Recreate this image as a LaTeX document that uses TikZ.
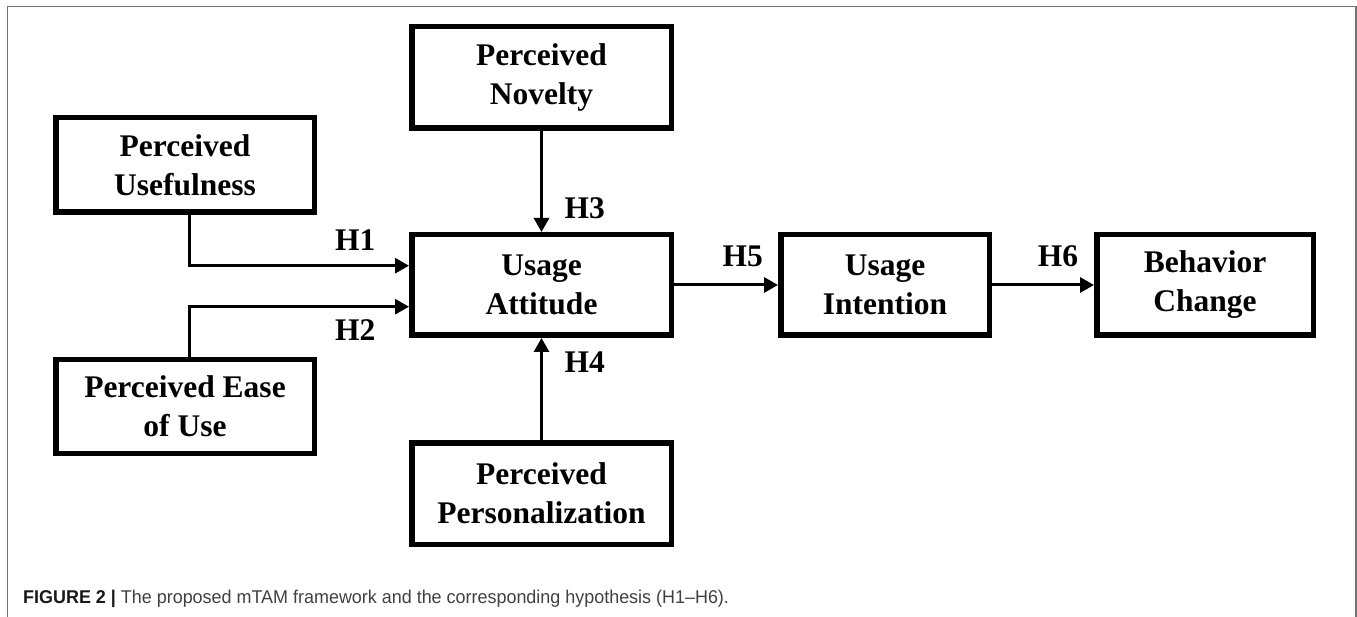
\documentclass[tikz,border=0pt]{standalone}
\usepackage{fontspec}
\usepackage{tikz}
\usetikzlibrary{arrows.meta}

\newfontfamily\boxfont{Liberation Serif}
\newfontfamily\capfont[FakeStretch=0.97]{Liberation Sans}

\begin{document}
\begin{tikzpicture}[x=1pt, y=-1pt]

% Page size and the grey frame round the figure
\useasboundingbox (0,0) rectangle (1357,617);
\draw[black!55, line width=1.5pt] (7.3,617) -- (7.3,6.3) -- (1356,6.3) -- (1356,617);

% Define styles for constructs, hypothesis paths and their labels
\tikzstyle{construct} = [rectangle, draw=black, line width=5.5pt, inner sep=0pt, align=center, font=\boxfont\bfseries\fontsize{31.5}{39}\selectfont]
\tikzstyle{hpath} = [line width=3pt, -{Triangle[length=14pt, width=15pt]}]
\tikzstyle{hyp} = [inner sep=0pt, font=\boxfont\bfseries\fontsize{31.5}{39}\selectfont]

% Constructs
\node[construct, minimum width=259.5pt, minimum height=101.5pt] (novelty) at (541.5,77.5) {Perceived\\Novelty};
\node[construct, minimum width=258.5pt, minimum height=94.5pt] (usefulness) at (185,165) {Perceived\\Usefulness};
\node[construct, minimum width=259.5pt, minimum height=100.5pt] (attitude) at (541.5,285) {Usage\\Attitude};
\node[construct, minimum width=258.5pt, minimum height=93.5pt] (ease) at (185,406.5) {Perceived Ease\\of Use};
\node[construct, minimum width=259.5pt, minimum height=101.5pt] (personal) at (541.5,493.5) {Perceived\\Personalization};
\node[construct, minimum width=208.5pt, minimum height=100.5pt] (intention) at (885,285) {Usage\\Intention};
\node[construct, minimum width=216.5pt, minimum height=100.5pt] (behavior) at (1205,285) {Behavior\\Change};

% Hypotheses
\draw[hpath] ([xshift=4pt]usefulness.south) |- ([yshift=19.3pt]attitude.west)
    node[hyp, pos=0.878, above=14pt] {H1};
\draw[hpath] ([xshift=4pt]ease.north) |- ([yshift=-21.7pt]attitude.west)
    node[hyp, pos=0.878, below=11pt] {H2};
\draw[hpath] (novelty) -- (attitude)
    node[hyp, pos=0.76, right=21.5pt] {H3};
\draw[hpath] (personal) -- (attitude)
    node[hyp, pos=0.765, right=21.5pt] {H4};
\draw[hpath] (attitude) -- (intention)
    node[hyp, pos=0.66, above=17pt] {H5};
\draw[hpath] (intention) -- (behavior)
    node[hyp, pos=0.647, above=17pt] {H6};

% Caption
\node[anchor=base west, inner sep=0pt, text=black!75, font=\capfont\fontsize{18.5}{22}\selectfont] (caption) at (23,603)
    {{\color{black!90}\bfseries FIGURE 2 |} The proposed mTAM framework and the corresponding hypothesis (H1–H6).};

\end{tikzpicture}
\end{document}
